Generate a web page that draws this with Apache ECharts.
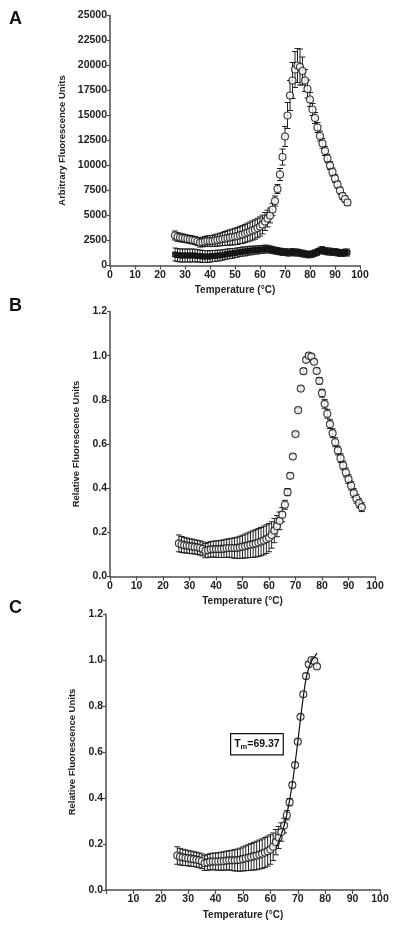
<!DOCTYPE html>
<html><head><meta charset="utf-8">
<script src="https://cdn.jsdelivr.net/npm/echarts@6/dist/echarts.min.js"></script>
<style>html,body{margin:0;padding:0;background:#fff}#c{width:400px;height:932px}</style>
</head><body><div id="c"></div>
<script>
const temps = [26,27,28,29,30,31,32,33,34,35,36,37,38,39,40,41,42,43,44,45,46,47,48,49,50,51,52,53,54,55,56,57,58,59,60,61,62,63,64,65,66,67,68,69,70,71,72,73,74,75,76,77,78,79,80,81,82,83,84,85,86,87,88,89,90,91,92,93,94,95];
const aUpper = [3000,2850,2800,2750,2700,2650,2600,2550,2500,2400,2300,2350,2400,2450,2450,2450,2500,2550,2600,2650,2700,2750,2800,2850,2900,2950,3050,3100,3200,3300,3400,3500,3600,3750,3900,4100,4400,4700,5000,5600,6450,7650,9100,10850,12900,15000,17000,18500,19600,20000,19850,19450,18500,17650,16600,15600,14750,13800,12950,12200,11450,10700,10000,9350,8700,8100,7500,6950,6650,6300];
const aUpperErr = [450,430,420,410,400,400,400,400,400,400,450,480,500,520,540,560,580,600,630,660,700,730,760,790,820,850,870,890,910,930,950,960,970,970,960,940,900,840,740,620,500,450,600,800,1000,1300,1500,1800,1800,1700,1800,1400,1100,900,700,600,550,500,500,480,450,420,400,400,380,350,350,330,300,300];
const aLower = [1100,1050,1000,1000,1000,1000,1000,1000,1000,950,950,900,900,900,900,950,950,1000,1000,1050,1100,1150,1200,1200,1250,1300,1350,1400,1400,1450,1500,1500,1550,1550,1600,1600,1650,1650,1600,1550,1500,1450,1400,1350,1350,1300,1300,1350,1300,1300,1250,1200,1150,1100,1100,1150,1250,1350,1500,1550,1450,1400,1400,1350,1350,1300,1250,1250,1300,1300];
const aLowerErr = [650,650,650,650,650,650,650,640,630,620,600,600,590,580,570,560,550,540,530,520,510,500,490,480,470,460,450,450,450,440,430,420,410,400,400,400,390,380,370,360,350,350,350,350,350,350,350,350,350,350,340,340,330,330,330,330,330,340,350,350,350,350,350,350,350,350,350,350,350,350];
const relB = [0.150,0.145,0.142,0.140,0.138,0.136,0.134,0.132,0.129,0.125,0.117,0.120,0.123,0.124,0.124,0.124,0.125,0.126,0.128,0.129,0.129,0.129,0.130,0.132,0.135,0.138,0.141,0.144,0.147,0.150,0.154,0.158,0.163,0.169,0.176,0.188,0.208,0.228,0.252,0.280,0.325,0.382,0.456,0.543,0.645,0.753,0.851,0.930,0.981,1.000,0.996,0.972,0.931,0.886,0.830,0.782,0.737,0.690,0.649,0.608,0.571,0.536,0.503,0.471,0.441,0.411,0.378,0.352,0.332,0.314];
const relBErr = [0.038,0.036,0.035,0.034,0.033,0.033,0.032,0.032,0.032,0.032,0.032,0.034,0.035,0.036,0.037,0.038,0.039,0.040,0.041,0.042,0.044,0.046,0.048,0.050,0.052,0.054,0.056,0.058,0.060,0.062,0.063,0.064,0.065,0.065,0.064,0.060,0.055,0.048,0.040,0.032,0.020,0.016,0.012,0.010,0.008,0.008,0.010,0.012,0.010,0.008,0.008,0.010,0.012,0.015,0.018,0.020,0.020,0.020,0.020,0.020,0.020,0.020,0.020,0.020,0.020,0.020,0.020,0.020,0.020,0.020];
const cLastTemp = 77;
const fitX = [62,63,64,65,66,67,68,69,70,71,72,73,74,75,76,77];
const fitY = [0.180,0.210,0.242,0.280,0.330,0.390,0.462,0.550,0.645,0.745,0.840,0.918,0.965,0.995,1.012,1.030];
const tmLabel = '69.37';
const yTicksA = {min:0,max:25000,interval:2500};
const yTicksRel = {min:0,max:1.2,interval:0.2};
const xTicks = {min:0,max:100,interval:10};

const FONT = "'Liberation Sans', Arial, sans-serif";
const AX = '#4d4d4d';

function pts(xs, ys){ return xs.map((x,i)=>[x, ys[i]]); }
function errs(xs, ys, es){ return xs.map((x,i)=>[x, ys[i]-es[i], ys[i]+es[i]]); }

function errRender(capW){
  return function(params, api){
    const x = api.value(0), lo = api.value(1), hi = api.value(2);
    const p1 = api.coord([x, lo]), p2 = api.coord([x, hi]);
    const st = {stroke:'#222', lineWidth:1};
    return {type:'group', children:[
      {type:'line', shape:{x1:p1[0], y1:p1[1], x2:p2[0], y2:p2[1]}, style:st},
      {type:'line', shape:{x1:p1[0]-capW, y1:p1[1], x2:p1[0]+capW, y2:p1[1]}, style:st},
      {type:'line', shape:{x1:p2[0]-capW, y1:p2[1], x2:p2[0]+capW, y2:p2[1]}, style:st}
    ]};
  };
}

function xAxisDef(gi, hideZero, gap){
  return {type:'value', gridIndex:gi, min:xTicks.min, max:xTicks.max, interval:xTicks.interval,
    name:'Temperature (°C)', nameLocation:'middle', nameGap:gap,
    nameTextStyle:{fontFamily:FONT, fontWeight:'bold', fontSize:10, color:'#222'},
    axisLine:{lineStyle:{color:AX, width:1.5}}, axisTick:{length:4, lineStyle:{color:AX, width:1.2}},
    splitLine:{show:false},
    axisLabel:{fontFamily:FONT, fontWeight:'bold', fontSize:10.5, color:'#222', margin:4,
      formatter: v => (hideZero && v===0) ? '' : String(v)}};
}
function yAxisDef(gi, t, name, gap, dec){
  return {type:'value', gridIndex:gi, min:t.min, max:t.max, interval:t.interval,
    name:name, nameLocation:'middle', nameGap:gap,
    nameTextStyle:{fontFamily:FONT, fontWeight:'bold', fontSize:9.5, color:'#222'},
    axisLine:{show:true, lineStyle:{color:AX, width:1.5}}, axisTick:{show:true, length:3, lineStyle:{color:AX, width:1.2}},
    splitLine:{show:false},
    axisLabel:{fontFamily:FONT, fontWeight:'bold', fontSize:10.5, color:'#222', margin:3,
      formatter: v => dec ? v.toFixed(1) : String(Math.round(v))}};
}

const cN = temps.filter(t => t <= cLastTemp).length;
const cTemps = temps.slice(0, cN), cVals = relB.slice(0, cN), cErr = relBErr.slice(0, cN);

const circle = {symbol:'circle', symbolSize:7, itemStyle:{color:'#fff', borderColor:'#111', borderWidth:1.2}};

const chart = echarts.init(document.getElementById('c'), null, {renderer:'canvas'});
chart.setOption({
  animation:false,
  backgroundColor:'#fff',
  grid:[
    {left:110, top:15.5, width:250, height:250},
    {left:110, top:311.5, width:265, height:265},
    {left:106, top:614, width:274, height:276}
  ],
  xAxis:[xAxisDef(0,false,20), xAxisDef(1,false,20), xAxisDef(2,true,20)],
  yAxis:[yAxisDef(0,yTicksA,'Arbitrary Fluorescence Units',35,false),
         yAxisDef(1,yTicksRel,'Relative Fluorescence Units',19,true),
         yAxisDef(2,yTicksRel,'Relative Fluorescence Units',21,true)],
  series:[
    {type:'custom', xAxisIndex:0, yAxisIndex:0, renderItem:errRender(2.5), data:errs(temps,aLower,aLowerErr), encode:{x:0,y:[1,2]}, silent:true},
    {type:'custom', xAxisIndex:0, yAxisIndex:0, renderItem:errRender(3), data:errs(temps,aUpper,aUpperErr), encode:{x:0,y:[1,2]}, silent:true},
    {type:'scatter', xAxisIndex:0, yAxisIndex:0, data:pts(temps,aLower), symbol:'rect', symbolSize:5, itemStyle:{color:'#111', borderColor:'#111', borderWidth:1}},
    Object.assign({type:'scatter', xAxisIndex:0, yAxisIndex:0, data:pts(temps,aUpper)}, circle),

    {type:'custom', xAxisIndex:1, yAxisIndex:1, renderItem:errRender(3), data:errs(temps,relB,relBErr), encode:{x:0,y:[1,2]}, silent:true},
    Object.assign({type:'scatter', xAxisIndex:1, yAxisIndex:1, data:pts(temps,relB)}, circle),

    {type:'custom', xAxisIndex:2, yAxisIndex:2, renderItem:errRender(3), data:errs(cTemps,cVals,cErr), encode:{x:0,y:[1,2]}, silent:true},
    Object.assign({type:'scatter', xAxisIndex:2, yAxisIndex:2, data:pts(cTemps,cVals)}, circle),
    {type:'line', xAxisIndex:2, yAxisIndex:2, data:pts(fitX,fitY), smooth:0.4, showSymbol:false, symbol:'none', lineStyle:{color:'#111', width:1.2}, z:5}
  ],
  graphic:[
    {type:'text', left:9, top:10, style:{text:'A', font:"bold 18px "+FONT, fill:'#111'}},
    {type:'text', left:9, top:297, style:{text:'B', font:"bold 18px "+FONT, fill:'#111'}},
    {type:'text', left:9, top:599, style:{text:'C', font:"bold 18px "+FONT, fill:'#111'}},
    {type:'text', left:230, top:733, style:{
      text:'{t|T}{m|m}{t|='+tmLabel+'}',
      rich:{t:{fontFamily:FONT, fontWeight:'bold', fontSize:10.5, fill:'#111', color:'#111', verticalAlign:'middle'},
            m:{fontFamily:FONT, fontWeight:'bold', fontSize:7.5, fill:'#111', color:'#111', padding:[6,0,0,0]}},
      borderColor:'#111', borderWidth:1.2, padding:[3,3,3,3], backgroundColor:'#fff'}}
  ]
});
</script></body></html>
